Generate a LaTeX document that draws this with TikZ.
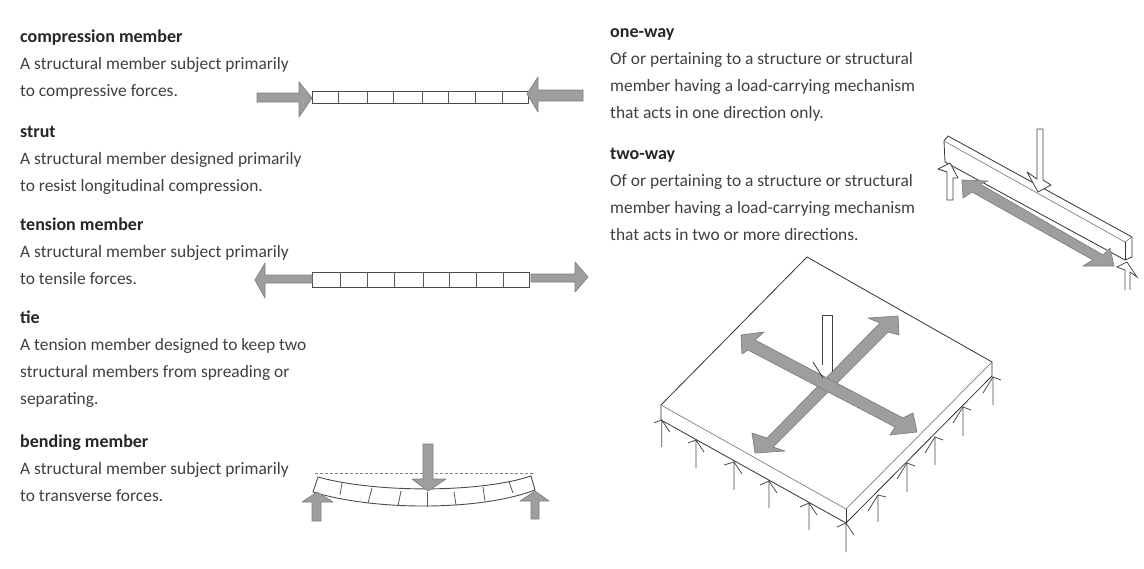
\documentclass[tikz,border=0pt]{standalone}
\usepackage{fontspec}
\setmainfont{Carlito}
\definecolor{ink}{gray}{0.25}
\definecolor{shade}{gray}{0.62}
\tikzset{
  txt/.style={anchor=north west,align=left,inner sep=0pt,text=ink,font=\fontsize{17.4}{27}\selectfont},
  member/.style={draw=black!70,line width=0.9pt,fill=white},
  divider/.style={draw=black!65,line width=0.8pt},
  force/.style={draw=black!50,line width=0.7pt,fill=shade,line join=round},
  whiteforce/.style={draw=black!75,line width=0.8pt,fill=white,line join=round},
  edge/.style={draw=black!80,line width=0.8pt},
  thin edge/.style={draw=black!50,line width=0.7pt},
  reaction/.style={draw=black!70,line width=0.8pt}
}
\newcommand{\ttl}[1]{{\fontsize{18}{27}\selectfont\bfseries\color{black!85}#1}}
\newcommand{\react}[6]{% name, x, tip y, tail y, left barb, right barb
  \coordinate (#1t) at (#2,#3);
  \coordinate (#1b) at (#2,#4);
  \draw[reaction] (#1b) -- (#1t) -- ++(#6);
  \draw[reaction] (#1t) -- ++(#5);
}
\begin{document}
\begin{tikzpicture}[x=1pt,y=-1pt]
\useasboundingbox (0,0) rectangle (1144,568);
\fill[white] (0,0) rectangle (1144,568);

% Text
\node[txt] (t1) at (20,30) {\ttl{compression member}\\A structural member subject primarily\\to compressive forces.};
\node[txt] (t2) at (20,126) {\ttl{strut}\\A structural member designed primarily\\to resist longitudinal compression.};
\node[txt] (t3) at (20,218) {\ttl{tension member}\\A structural member subject primarily\\to tensile forces.};
\node[txt] (t4) at (20,311) {\ttl{tie}\\A tension member designed to keep two\\structural members from spreading or\\separating.};
\node[txt] (t5) at (20,435) {\ttl{bending member}\\A structural member subject primarily\\to transverse forces.};
\node[txt] (t6) at (610,28) {\ttl{one-way}\\Of or pertaining to a structure or structural\\member having a load-carrying mechanism\\that acts in one direction only.};
\node[txt] (t7) at (610,148) {\ttl{two-way}\\Of or pertaining to a structure or structural\\member having a load-carrying mechanism\\that acts in two or more directions.};

% Compression member
\draw[member] (312,91) rectangle (528,103);
\foreach \x in {338,367,393,422,448,475,502} \draw[divider] (\x,91) -- (\x,103);
\draw[force] (257,93) -- (299,93) -- (299,82) -- (312,98) -- (299,117) -- (299,102) -- (257,102) -- cycle;
\draw[force] (583,90) -- (538,90) -- (538,77) -- (527,94) -- (538,112) -- (538,101) -- (583,101) -- cycle;

% Tension member
\draw[member] (312,272) rectangle (529,287);
\foreach \x in {340,367,394,423,449,476,503} \draw[divider] (\x,272) -- (\x,287);
\draw[force] (312,275) -- (265,275) -- (265,263) -- (255,280) -- (265,298) -- (265,283) -- (312,283) -- cycle;
\draw[force] (531,274) -- (575,274) -- (575,262) -- (588,277) -- (575,292) -- (575,282) -- (531,282) -- cycle;

% Bending member
\draw[thin edge,densely dashed] (315,473) -- (533,473);
\draw[member] (318,477) .. controls (375,493) and (480,493) .. (531,476)
  -- (535,490) .. controls (480,511) and (375,511) .. (313,492) -- cycle;
\draw[divider] (342,483) -- (340,495);
\draw[divider] (372,488) -- (368,503);
\draw[divider] (401,491) -- (398,506);
\draw[divider] (427,492) -- (427,507);
\draw[divider] (454,492) -- (456,505);
\draw[divider] (483,487) -- (485,501);
\draw[divider] (509,482) -- (513,493);
\draw[force] (423,444) -- (433,444) -- (433,479) -- (446,479) -- (428,491) -- (412,479) -- (423,479) -- cycle;
\draw[force] (312,521) -- (321,521) -- (321,502) -- (333,502) -- (317,492) -- (302,502) -- (312,502) -- cycle;
\draw[force] (531,519) -- (539,519) -- (539,501) -- (549,501) -- (535,491) -- (520,501) -- (531,501) -- cycle;

% One-way beam
\draw[edge,fill=white] (948,136) -- (1132,237) -- (1132,257) -- (1125,260) -- (945,162) -- (944,141) -- cycle;
\draw[thin edge] (944,141) -- (1125,242) -- (1132,237);
\draw[edge] (1125,242) -- (1125,260);
\draw[force] (962,180) -- (988,181) -- (980,184) -- (1103,255) -- (1110,248) -- (1114,266) -- (1083,266) -- (1093,260) -- (972,192) -- (963,198) -- cycle;
\draw[whiteforce] (1037,129) -- (1043,129) -- (1043,180) -- (1051,185) -- (1038,192) -- (1027,172) -- (1037,179) -- cycle;
\draw[whiteforce] (947,200) -- (953,200) -- (953,178) -- (958,178) -- (950,163) -- (938,169) -- (947,172) -- cycle;
\draw[reaction] (1125,290) -- (1125,270) -- (1117,267) -- (1127,262) -- (1137,277) -- (1130,272) -- (1130,290);

% Two-way slab
\coordinate (back) at (807,257);
\coordinate (left) at (661,405);
\coordinate (right) at (992,362);
\coordinate (front) at (846,509);
\coordinate (leftb) at (661,420);
\coordinate (rightb) at (992,376);
\coordinate (frontb) at (846,523);
\draw[edge,fill=white] (left) -- (back) -- (right) -- (rightb) -- (frontb) -- (leftb) -- cycle;
\draw[thin edge] (left) -- (front) -- (right);
\draw[edge] (front) -- (frontb);

% Crossed load spreading arrows
\draw[force] (880,323) -- (868,318) -- (898,316) -- (899,335) -- (888,332) -- (773,447) -- (785,451) -- (755,453) -- (752,433) -- (767,438) -- cycle;
\draw[force] (755,340) -- (764,332) -- (741,335) -- (742,354) -- (748,350) -- (895,427) -- (890,435) -- (917,432) -- (913,413) -- (903,418) -- cycle;
\draw[whiteforce] (822,365) -- (822,315) -- (832,315) -- (832,372);
\draw[edge] (813,362) -- (823,378);

% Reactions along the edges
\react{a}{661.7}{420}{447}{-8,3}{8,12}
\react{b}{696}{440}{468}{-8,3}{8,12}
\react{c}{734}{462}{490}{-10,3}{8,12}
\react{d}{769}{481}{508}{-9,4}{8,12}
\react{e}{809}{503}{530}{-9,4}{8,12}
\react{f}{846}{523}{552}{-9,4}{8,12}
\react{g}{878}{495}{522}{-10,16}{8,2}
\react{h}{907}{463}{492}{-10,16}{8,3}
\react{i}{935}{437}{465}{-10,16}{8,3}
\react{j}{963}{407}{436}{-10,16}{8,3}
\react{k}{993}{377}{405}{-10,16}{8,3}
\end{tikzpicture}
\end{document}
